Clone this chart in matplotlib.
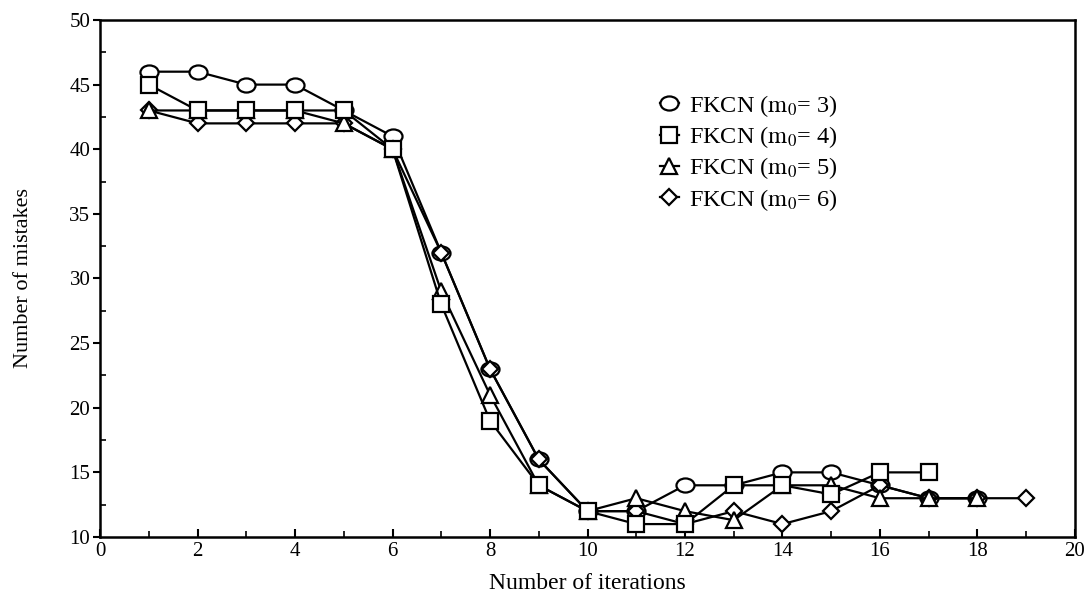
import matplotlib
matplotlib.use("Agg")
import matplotlib.pyplot as plt
from matplotlib.ticker import MultipleLocator
from matplotlib.path import Path
from matplotlib.transforms import Affine2D

plt.rcParams['font.family'] = ['Liberation Serif', 'DejaVu Serif']
plt.rcParams['mathtext.fontset'] = 'stix'

# Data
iters_m3 = [1, 2, 3, 4, 5, 6, 7, 8, 9, 10, 11, 12, 13, 14, 15, 16, 17, 18]
mistakes_m3 = [46, 46, 45, 45, 43, 41, 32, 23, 16, 12, 12, 14, 14, 15, 15, 14, 13, 13]

iters_m4 = [1, 2, 3, 4, 5, 6, 7, 8, 9, 10, 11, 12, 13, 14, 15, 16, 17]
mistakes_m4 = [45, 43, 43, 43, 43, 40, 28, 19, 14, 12, 11, 11, 14, 14, 13.3, 15, 15]

iters_m5 = [1, 2, 3, 4, 5, 6, 7, 8, 9, 10, 11, 12, 13, 14, 15, 16, 17, 18]
mistakes_m5 = [43, 43, 43, 43, 42, 40, 29, 21, 14, 12, 13, 12, 11.3, 14, 14, 13, 13, 13]

iters_m6 = [1, 2, 3, 4, 5, 6, 7, 8, 9, 10, 11, 12, 13, 14, 15, 16, 17, 18, 19]
mistakes_m6 = [43, 42, 42, 42, 42, 40, 32, 23, 16, 12, 12, 11, 12, 11, 12, 14, 13, 13, 13]

labels = [r'FKCN ($\mathrm{m}_0$= 3)', r'FKCN ($\mathrm{m}_0$= 4)',
          r'FKCN ($\mathrm{m}_0$= 5)', r'FKCN ($\mathrm{m}_0$= 6)']

ellipse = Path.unit_circle().transformed(Affine2D().scale(1.0, 0.78))

fig = plt.figure(figsize=(10.91, 5.98), dpi=100)
ax = fig.add_axes([0.0917, 0.102, 0.8936, 0.8646])

common = dict(color='black', lw=1.6, mfc='white', mec='black', mew=1.6)
l3, = ax.plot(iters_m3, mistakes_m3, marker=ellipse, ms=13, zorder=3, **common)
l6, = ax.plot(iters_m6, mistakes_m6, marker='D', ms=8, zorder=4, **common)
l5, = ax.plot(iters_m5, mistakes_m5, marker='^', ms=11, zorder=5, **common)
l4, = ax.plot(iters_m4, mistakes_m4, marker='s', ms=12, zorder=6, **common)

ax.set_xlim(0, 20)
ax.set_ylim(10, 50)
ax.xaxis.set_major_locator(MultipleLocator(2))
ax.xaxis.set_minor_locator(MultipleLocator(1))
ax.yaxis.set_major_locator(MultipleLocator(5))
ax.yaxis.set_minor_locator(MultipleLocator(2.5))
ax.tick_params(axis='both', which='major', labelsize=15, width=1.5, length=6, direction='in')
ax.tick_params(axis='both', which='minor', width=1.2, length=4, direction='in')
ax.tick_params(axis='y', which='major', direction='out', length=5, pad=2)
for s in ax.spines.values():
    s.set_linewidth(1.8)

ax.set_xlabel('Number of iterations', fontsize=17, labelpad=9)
ax.set_ylabel('Number of mistakes', fontsize=16, labelpad=26)

ax.legend([l3, l4, l5, l6], labels, loc='upper left',
          bbox_to_anchor=(0.564, 0.878), frameon=False, fontsize=17.5,
          handlelength=0.8, handletextpad=0.4, labelspacing=0.22, borderaxespad=0)

fig.savefig('out.png', dpi=100)
